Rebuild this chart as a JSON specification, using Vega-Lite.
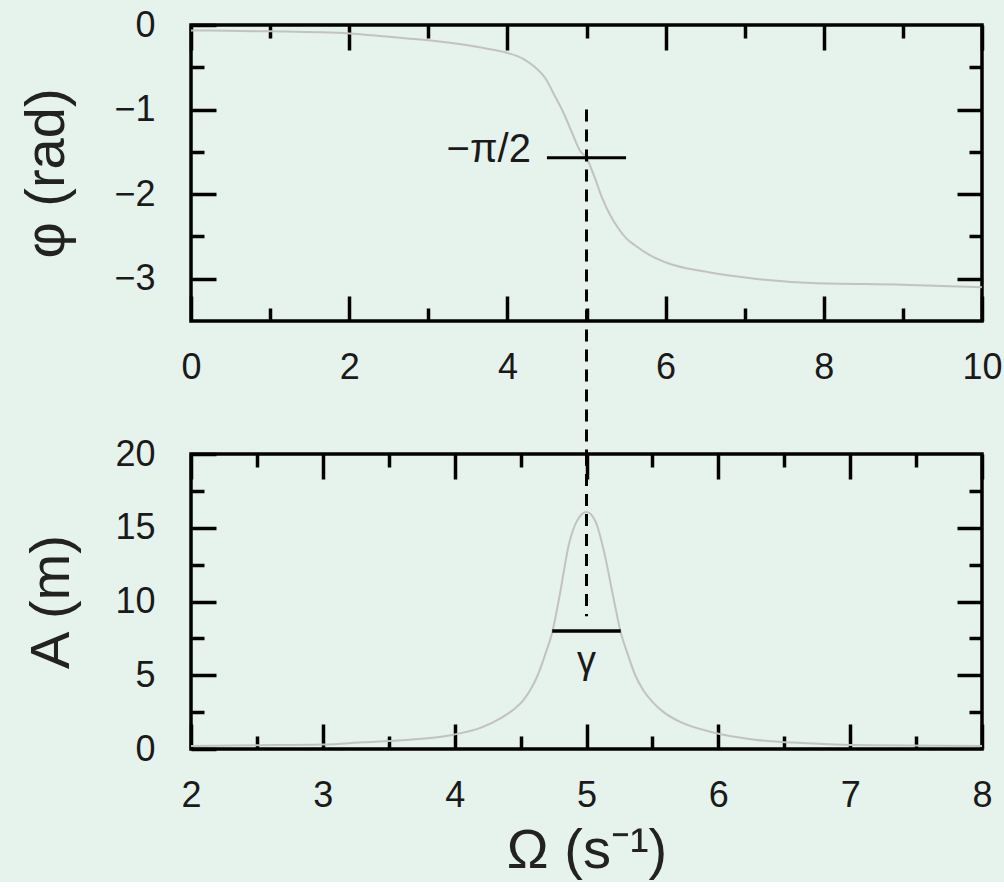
{
  "$schema": "https://vega.github.io/schema/vega-lite/v6.json",
  "background": "#e6f2ec",
  "padding": {"left": 17, "top": 5, "right": 3, "bottom": 2},
  "bounds": "flush",
  "spacing": 133,
  "config": {
    "font": "Liberation Sans",
    "view": {"stroke": "#000000", "strokeWidth": 3.5},
    "axis": {
      "domain": false,
      "grid": false,
      "tickColor": "#000000",
      "tickWidth": 3.5,
      "labelFont": "Liberation Sans",
      "labelFontSize": 36,
      "labelColor": "#1a1a1a",
      "labelFlush": false,
      "labelOverlap": false,
      "titleFont": "Liberation Sans",
      "titleFontSize": 56,
      "titleFontWeight": "normal",
      "titleColor": "#222222"
    }
  },
  "datasets": {
    "phase": [
      {"omega": 0.0, "phi": -0.065},
      {"omega": 1.0, "phi": -0.075},
      {"omega": 2.0, "phi": -0.1},
      {"omega": 2.5, "phi": -0.14},
      {"omega": 3.0, "phi": -0.18},
      {"omega": 3.5, "phi": -0.24},
      {"omega": 3.8, "phi": -0.29},
      {"omega": 4.0, "phi": -0.33},
      {"omega": 4.2, "phi": -0.4},
      {"omega": 4.35, "phi": -0.5},
      {"omega": 4.48, "phi": -0.63},
      {"omega": 4.6, "phi": -0.84},
      {"omega": 4.71, "phi": -1.04},
      {"omega": 4.82, "phi": -1.28},
      {"omega": 4.92, "phi": -1.49},
      {"omega": 5.0, "phi": -1.57},
      {"omega": 5.09, "phi": -1.77},
      {"omega": 5.2, "phi": -2.05},
      {"omega": 5.3, "phi": -2.25},
      {"omega": 5.4, "phi": -2.4},
      {"omega": 5.5, "phi": -2.52},
      {"omega": 5.62, "phi": -2.61},
      {"omega": 5.8, "phi": -2.72},
      {"omega": 6.04, "phi": -2.82},
      {"omega": 6.46, "phi": -2.91},
      {"omega": 7.13, "phi": -3.0},
      {"omega": 7.85, "phi": -3.05},
      {"omega": 8.99, "phi": -3.07},
      {"omega": 10.0, "phi": -3.1}
    ],
    "amplitude": [
      {"omega": 2.0, "amp": 0.2},
      {"omega": 2.5, "amp": 0.25},
      {"omega": 3.0, "amp": 0.3},
      {"omega": 3.3, "amp": 0.45},
      {"omega": 3.6, "amp": 0.6},
      {"omega": 3.98, "amp": 0.95},
      {"omega": 4.2, "amp": 1.45},
      {"omega": 4.36, "amp": 2.15},
      {"omega": 4.45, "amp": 2.7},
      {"omega": 4.52, "amp": 3.3},
      {"omega": 4.58, "amp": 4.1},
      {"omega": 4.63, "amp": 5.0},
      {"omega": 4.69, "amp": 6.5},
      {"omega": 4.74, "amp": 7.9},
      {"omega": 4.79, "amp": 10.1},
      {"omega": 4.87, "amp": 14.0},
      {"omega": 4.93, "amp": 15.5},
      {"omega": 5.0, "amp": 16.07},
      {"omega": 5.07, "amp": 15.4},
      {"omega": 5.13, "amp": 13.5},
      {"omega": 5.21, "amp": 10.0},
      {"omega": 5.26, "amp": 7.9},
      {"omega": 5.31, "amp": 6.5},
      {"omega": 5.37, "amp": 5.0},
      {"omega": 5.43, "amp": 4.0},
      {"omega": 5.5, "amp": 3.2},
      {"omega": 5.6, "amp": 2.4},
      {"omega": 5.72, "amp": 1.8},
      {"omega": 5.97, "amp": 1.1},
      {"omega": 6.26, "amp": 0.65},
      {"omega": 6.64, "amp": 0.4},
      {"omega": 7.14, "amp": 0.25},
      {"omega": 8.0, "amp": 0.2}
    ],
    "half_pi": [
      {"omega_lo": 4.5, "omega_hi": 5.5, "phi": -1.5708, "label": "−π/2"}
    ],
    "resonance_phase": [
      {"omega": 5, "phi_from": -1.0, "phi_to": -5.07}
    ],
    "resonance_amp": [
      {"omega": 5, "amp_from": 20, "amp_to": 9}
    ],
    "half_width": [
      {"omega_lo": 4.74, "omega_hi": 5.26, "omega_mid": 5, "amp": 8, "label": "γ"}
    ]
  },
  "vconcat": [
    {
      "width": 791,
      "height": 296,
      "resolve": {"axis": {"x": "independent", "y": "independent"}},
      "layer": [
        {
          "data": {"name": "phase"},
          "mark": {"type": "line", "color": "#c2c2c2", "strokeWidth": 2, "interpolate": "monotone"},
          "encoding": {
            "x": {
              "field": "omega", "type": "quantitative",
              "scale": {"domain": [0, 10], "nice": false, "zero": false},
              "axis": {"orient": "bottom", "values": [0, 2, 4, 6, 8, 10], "tickSize": -25, "labelPadding": 54, "title": null}
            },
            "y": {
              "field": "phi", "type": "quantitative",
              "scale": {"domain": [-3.5, 0], "nice": false, "zero": false},
              "axis": {"orient": "left", "values": [-3, -2, -1, 0], "tickSize": -25, "labelPadding": 61, "title": "φ (rad)", "titlePadding": 38}
            }
          }
        },
        {
          "data": {"name": "half_pi"},
          "mark": {"type": "rule", "color": "#000000", "strokeWidth": 3},
          "encoding": {
            "x": {
              "field": "omega_lo", "type": "quantitative",
              "scale": {"domain": [0, 10], "nice": false, "zero": false},
              "axis": {"orient": "top", "values": [0, 2, 4, 6, 8, 10], "tickSize": -25, "labels": false, "title": null}
            },
            "x2": {"field": "omega_hi"},
            "y": {
              "field": "phi", "type": "quantitative",
              "scale": {"domain": [-3.5, 0], "nice": false, "zero": false},
              "axis": {"orient": "right", "values": [-3, -2, -1], "tickSize": -25, "labels": false, "title": null}
            }
          }
        },
        {
          "data": {"name": "resonance_phase"},
          "mark": {"type": "rule", "color": "#000000", "strokeWidth": 3, "strokeDash": [12, 8]},
          "encoding": {
            "x": {
              "field": "omega", "type": "quantitative",
              "scale": {"domain": [0, 10], "nice": false, "zero": false},
              "axis": {"orient": "bottom", "values": [1, 3, 5, 7, 9], "tickSize": -13, "labels": false, "title": null}
            },
            "y": {
              "field": "phi_from", "type": "quantitative",
              "scale": {"domain": [-3.5, 0], "nice": false, "zero": false},
              "axis": {"orient": "left", "values": [-2.5, -1.5, -0.5], "tickSize": -13, "labels": false, "title": null}
            },
            "y2": {"field": "phi_to"}
          }
        },
        {
          "data": {"name": "half_pi"},
          "mark": {"type": "text", "align": "right", "baseline": "alphabetic", "dx": -16, "dy": 4, "fontSize": 40, "font": "Liberation Sans", "color": "#1a1a1a"},
          "encoding": {
            "x": {
              "field": "omega_lo", "type": "quantitative",
              "scale": {"domain": [0, 10], "nice": false, "zero": false},
              "axis": {"orient": "top", "values": [1, 3, 5, 7, 9], "tickSize": -13, "labels": false, "title": null}
            },
            "y": {
              "field": "phi", "type": "quantitative",
              "scale": {"domain": [-3.5, 0], "nice": false, "zero": false},
              "axis": {"orient": "right", "values": [-2.5, -1.5, -0.5], "tickSize": -13, "labels": false, "title": null}
            },
            "text": {"field": "label"}
          }
        }
      ]
    },
    {
      "width": 791,
      "height": 295,
      "resolve": {"axis": {"x": "independent", "y": "independent"}},
      "layer": [
        {
          "data": {"name": "amplitude"},
          "mark": {"type": "line", "color": "#c2c2c2", "strokeWidth": 2, "interpolate": "monotone"},
          "encoding": {
            "x": {
              "field": "omega", "type": "quantitative",
              "scale": {"domain": [2, 8], "nice": false, "zero": false},
              "axis": {"orient": "bottom", "values": [2, 3, 4, 5, 6, 7, 8], "tickSize": -25, "labelPadding": 54, "title": "Ω (s⁻¹)", "titlePadding": 10}
            },
            "y": {
              "field": "amp", "type": "quantitative",
              "scale": {"domain": [0, 20], "nice": false, "zero": false},
              "axis": {"orient": "left", "values": [0, 5, 10, 15, 20], "tickSize": -25, "labelPadding": 61, "title": "A (m)", "titlePadding": 34}
            }
          }
        },
        {
          "data": {"name": "half_width"},
          "mark": {"type": "rule", "color": "#000000", "strokeWidth": 3.5},
          "encoding": {
            "x": {
              "field": "omega_lo", "type": "quantitative",
              "scale": {"domain": [2, 8], "nice": false, "zero": false},
              "axis": {"orient": "top", "values": [2, 3, 4, 5, 6, 7, 8], "tickSize": -25, "labels": false, "title": null}
            },
            "x2": {"field": "omega_hi"},
            "y": {
              "field": "amp", "type": "quantitative",
              "scale": {"domain": [0, 20], "nice": false, "zero": false},
              "axis": {"orient": "right", "values": [5, 10, 15], "tickSize": -25, "labels": false, "title": null}
            }
          }
        },
        {
          "data": {"name": "resonance_amp"},
          "mark": {"type": "rule", "color": "#000000", "strokeWidth": 3, "strokeDash": [12, 8]},
          "encoding": {
            "x": {
              "field": "omega", "type": "quantitative",
              "scale": {"domain": [2, 8], "nice": false, "zero": false},
              "axis": {"orient": "bottom", "values": [2.5, 3.5, 4.5, 5.5, 6.5, 7.5], "tickSize": -13, "labels": false, "title": null}
            },
            "y": {
              "field": "amp_from", "type": "quantitative",
              "scale": {"domain": [0, 20], "nice": false, "zero": false},
              "axis": {"orient": "left", "values": [2.5, 7.5, 12.5, 17.5], "tickSize": -13, "labels": false, "title": null}
            },
            "y2": {"field": "amp_to"}
          }
        },
        {
          "data": {"name": "half_width"},
          "mark": {"type": "text", "align": "center", "baseline": "alphabetic", "dy": 42, "fontSize": 38, "font": "Liberation Sans", "color": "#1a1a1a"},
          "encoding": {
            "x": {
              "field": "omega_mid", "type": "quantitative",
              "scale": {"domain": [2, 8], "nice": false, "zero": false},
              "axis": {"orient": "top", "values": [2.5, 3.5, 4.5, 5.5, 6.5, 7.5], "tickSize": -13, "labels": false, "title": null}
            },
            "y": {
              "field": "amp", "type": "quantitative",
              "scale": {"domain": [0, 20], "nice": false, "zero": false},
              "axis": {"orient": "right", "values": [2.5, 7.5, 12.5, 17.5], "tickSize": -13, "labels": false, "title": null}
            },
            "text": {"field": "label"}
          }
        }
      ]
    }
  ]
}
